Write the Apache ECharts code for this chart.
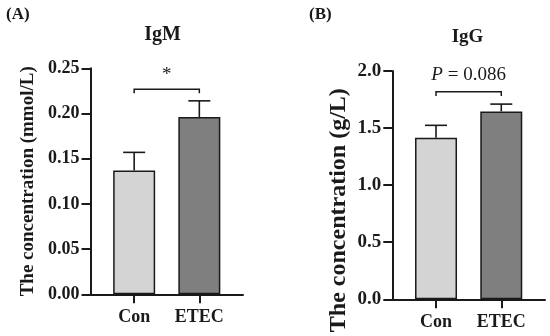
<!DOCTYPE html>
<html>
<head>
<meta charset="utf-8">
<script src="https://cdn.jsdelivr.net/npm/echarts@6/dist/echarts.min.js"></script>
<style>html,body{margin:0;padding:0;background:#fff}#c{width:550px;height:336px}</style>
</head>
<body>
<div id="c"></div>
<script>
const categories = ['Con', 'ETEC'];
const igmMean = [0.137, 0.196];
const igmSem = [0.020, 0.018];
const iggMean = [1.415, 1.646];
const iggSem = [0.109, 0.064];
const igmTicks = [0, 0.05, 0.10, 0.15, 0.20, 0.25];
const iggTicks = [0, 0.5, 1.0, 1.5, 2.0];
const igmSig = {label: '*', y: 0.2426, bracket: 0.2268, drop: 0.2225};
const iggSig = {label: 'P = 0.086', y: 1.965, bracket: 1.818, drop: 1.78};

const FONT = 'Liberation Serif, Times New Roman, serif';
const barColors = ['#d4d4d4', '#7f7f7f'];
const INK = '#1a1a1a';

const chart = echarts.init(document.getElementById('c'), null, {renderer: 'canvas'});

function xAxis(idx) {
  return {
    type: 'value', gridIndex: idx, min: 0.33, max: 2.67,
    splitLine: {show: false},
    axisLine: {show: true, onZero: false, lineStyle: {color: INK, width: 2}},
    axisTick: {show: true, length: 9, customValues: [1, 2], lineStyle: {color: INK, width: 2}},
    axisLabel: {
      customValues: [1, 2], margin: 14,
      formatter: v => categories[Math.round(v) - 1] || '',
      color: INK, fontFamily: FONT, fontWeight: 'bold', fontSize: 18
    }
  };
}
function yAxis(idx, max, interval, digits, name, nameSize, nameGap, pad, labSize) {
  return {
    type: 'value', gridIndex: idx, min: 0, max: max, interval: interval,
    splitLine: {show: false},
    axisLine: {show: true, lineStyle: {color: INK, width: 2}},
    axisTick: {show: true, length: 9, lineStyle: {color: INK, width: 2}},
    axisLabel: {
      margin: 11, color: INK, fontFamily: FONT, fontWeight: 'bold', fontSize: labSize,
      formatter: v => v.toFixed(digits)
    },
    name: name, nameLocation: 'middle', nameGap: nameGap,
    nameTextStyle: {color: INK, fontFamily: FONT, fontWeight: 'bold', fontSize: nameSize, padding: pad}
  };
}

function barSeries(idx, means) {
  return {
    type: 'bar', xAxisIndex: idx, yAxisIndex: idx, barWidth: 42,
    data: means.map((m, i) => ({value: [i + 1, m], itemStyle: {color: barColors[i]}})),
    itemStyle: {borderColor: INK, borderWidth: 1.5},
    emphasis: {disabled: true}, z: 2
  };
}
function errSeries(idx, means, sems) {
  return {
    type: 'custom', xAxisIndex: idx, yAxisIndex: idx, z: 3,
    data: means.map((m, i) => [i + 1, m, m + sems[i]]),
    encode: {x: 0, y: [1, 2]},
    renderItem: function (params, api) {
      const p0 = api.coord([api.value(0), api.value(1)]);
      const p1 = api.coord([api.value(0), api.value(2)]);
      const st = {stroke: INK, lineWidth: 1.6};
      return {type: 'group', children: [
        {type: 'line', shape: {x1: p0[0], y1: p0[1], x2: p1[0], y2: p1[1]}, style: st},
        {type: 'line', shape: {x1: p1[0] - 11, y1: p1[1], x2: p1[0] + 11, y2: p1[1]}, style: st}
      ]};
    }
  };
}
function sigSeries(idx, sig, italicP) {
  return {
    type: 'custom', xAxisIndex: idx, yAxisIndex: idx, z: 3,
    data: [[1, 2, sig.bracket, sig.drop, sig.y]],
    encode: {x: [0, 1], y: [2, 3, 4]},
    renderItem: function (params, api) {
      const a = api.coord([api.value(0), api.value(3)]);
      const b = api.coord([api.value(0), api.value(2)]);
      const c = api.coord([api.value(1), api.value(2)]);
      const d = api.coord([api.value(1), api.value(3)]);
      const t = api.coord([(api.value(0) + api.value(1)) / 2, api.value(4)]);
      const children = [
        {type: 'polyline', shape: {points: [a, b, c, d]}, style: {stroke: INK, lineWidth: 1.5, fill: null}}
      ];
      if (italicP) {
        children.push({type: 'text', x: t[0], y: t[1], style: {
          text: '{i|P}' + sig.label.slice(1), align: 'center', verticalAlign: 'middle',
          fontFamily: FONT, fontSize: 19, fill: INK,
          rich: {i: {fontStyle: 'italic', fontFamily: FONT, fontSize: 19, fill: INK}}
        }});
      } else {
        children.push({type: 'text', x: t[0], y: t[1], style: {
          text: sig.label, align: 'center', verticalAlign: 'middle',
          fontFamily: FONT, fontSize: 19, fill: INK
        }});
      }
      return {type: 'group', children: children};
    }
  };
}

const option = {
  animation: false,
  backgroundColor: '#fff',
  grid: [
    {left: 90.5, top: 68.3, width: 152.5, height: 226, containLabel: false},
    {left: 392.3, top: 71, width: 152.7, height: 228.3, containLabel: false}
  ],
  xAxis: [xAxis(0), xAxis(1)],
  yAxis: [
    yAxis(0, igmTicks[igmTicks.length - 1], igmTicks[1], 2, 'The concentration (mmol/L)', 19, 53, [0, 0, 0, 0], 18),
    yAxis(1, iggTicks[iggTicks.length - 1], iggTicks[1], 1, 'The concentration (g/L)', 24, 42, [0, 50, 0, 0], 19)
  ],
  series: [
    barSeries(0, igmMean), errSeries(0, igmMean, igmSem), sigSeries(0, igmSig, false),
    barSeries(1, iggMean), errSeries(1, iggMean, iggSem), sigSeries(1, iggSig, true)
  ],
  graphic: [
    {type: 'text', left: 6, top: 6, style: {text: '(A)', fontFamily: FONT, fontWeight: 'bold', fontSize: 17, fill: INK}},
    {type: 'text', left: 309, top: 6, style: {text: '(B)', fontFamily: FONT, fontWeight: 'bold', fontSize: 17, fill: INK}},
    {type: 'text', x: 162.5, y: 35, style: {text: 'IgM', align: 'center', verticalAlign: 'middle', fontFamily: FONT, fontWeight: 'bold', fontSize: 20, fill: INK}},
    {type: 'text', x: 467.5, y: 37, style: {text: 'IgG', align: 'center', verticalAlign: 'middle', fontFamily: FONT, fontWeight: 'bold', fontSize: 19, fill: INK}}
  ]
};
chart.setOption(option);
</script>
</body>
</html>
